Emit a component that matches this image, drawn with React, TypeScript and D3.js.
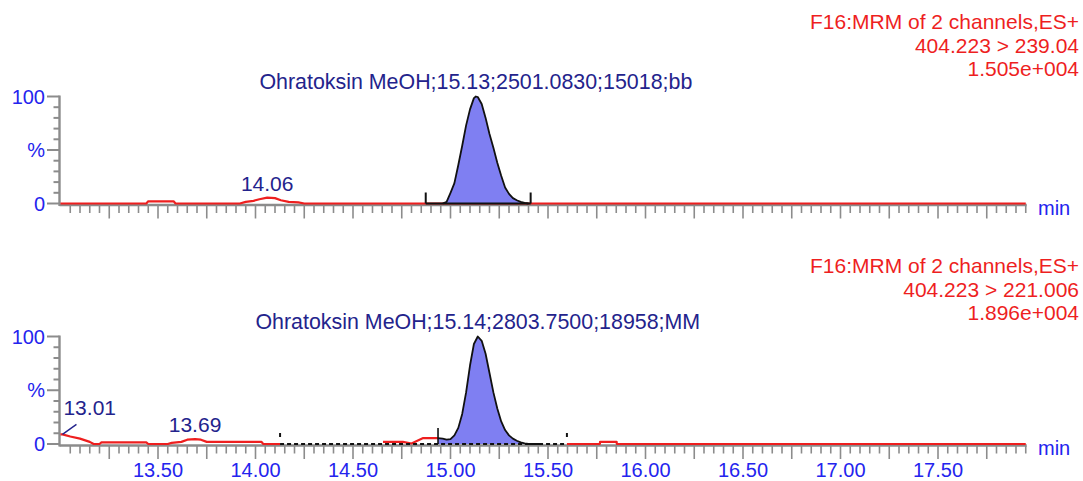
import React from "react";
import * as d3 from "d3";

type Pt = [number, number];

const FONT = "'Liberation Sans', Arial, Helvetica, sans-serif";
const BLUE = "#2424ee";
const NAVY = "#23238c";
const RED = "#ee1f1f";
const GREY = "#8c8c8c";
const FILL = "#7f7ff2";

// Retention-time axis (minutes)
const timeDomain: [number, number] = [13.0, 17.95];
const tickLabels = ["13.50", "14.00", "14.50", "15.00", "15.50", "16.00", "16.50", "17.00", "17.50"];
const yTickValues = [0, 10, 20, 30, 40, 50, 60, 70, 80, 90, 100];

// Channel 1: 404.223 > 239.04
const ch1Header = ["F16:MRM of 2 channels,ES+", "404.223 > 239.04", "1.505e+004"];
const ch1Title = "Ohratoksin MeOH;15.13;2501.0830;15018;bb";
const ch1Apex = 15.13;
const ch1Window: [number, number] = [14.873, 15.411];
const ch1Trace: Pt[] = [
  [13.0, 0], [13.44, 0], [13.45, 2], [13.58, 2], [13.59, 0], [13.92, 0], [13.95, 1.5],
  [13.99, 2.5], [14.02, 4], [14.06, 5.5], [14.1, 5], [14.13, 3], [14.17, 1.5], [14.22, 1],
  [14.25, 0], [14.873, 0], [15.411, 0], [17.95, 0],
];
const ch1PeakTime = [14.96, 14.98, 15.0, 15.02, 15.04, 15.06, 15.08, 15.1, 15.12, 15.13, 15.14, 15.16,
  15.18, 15.2, 15.22, 15.24, 15.26, 15.28, 15.3, 15.32, 15.34, 15.36, 15.38, 15.4];
const ch1PeakValue = [0, 1.5, 10, 19, 36, 54, 73, 88, 98.5, 100, 99.5, 93,
  80, 65, 52, 38, 26, 15, 9, 5, 3, 1.5, 0.5, 0];
const ch1LabelTimes = [14.06];
const ch1LabelTexts = ["14.06"];

// Channel 2: 404.223 > 221.006
const ch2Header = ["F16:MRM of 2 channels,ES+", "404.223 > 221.006", "1.896e+004"];
const ch2Title = "Ohratoksin MeOH;15.14;2803.7500;18958;MM";
const ch2Apex = 15.14;
const ch2Window: [number, number] = [14.126, 15.597];
const ch2Split = 14.936;
const ch2Trace: Pt[] = [
  [13.0, 9], [13.01, 9], [13.05, 7], [13.1, 5], [13.15, 2], [13.17, 0], [13.2, 0], [13.21, 1.5],
  [13.44, 1.5], [13.45, 0], [13.55, 0], [13.57, 1], [13.62, 2], [13.65, 4], [13.69, 4.5],
  [13.72, 4], [13.75, 2], [14.03, 2], [14.04, 0], [14.126, 0], [14.4, 0],
  [14.654, 2], [14.756, 2], [14.8, 0.5], [14.86, 5.5], [14.936, 5.5], [15.5, 0],
  [15.597, 0], [15.766, 0], [15.767, 2], [15.852, 2], [15.853, 0], [17.95, 0],
];
const ch2PeakTime = [14.936, 14.96, 14.98, 15.0, 15.02, 15.04, 15.06, 15.08, 15.1, 15.12, 15.14, 15.16,
  15.18, 15.2, 15.22, 15.24, 15.26, 15.28, 15.3, 15.32, 15.34, 15.36, 15.38, 15.4, 15.46];
const ch2PeakValue = [5.5, 5, 4, 4.5, 8, 15, 28, 48, 73, 93, 100, 96,
  84, 66, 48, 33, 21, 13, 8, 5, 3, 1.5, 0.5, 0, 0];
const ch2LabelTimes = [13.01, 13.69];
const ch2LabelTexts = ["13.01", "13.69"];

const x = d3.scaleLinear().domain(timeDomain).range([60.5, 1025.75]);

const minorTicks = d3.range(1, 100).map((i) => ({ t: timeDomain[0] + i * 0.05, long: i % 5 === 0 }))
  .filter((d) => d.t <= timeDomain[1] + 1e-6);

type PanelProps = {
  y0: number;
  y100: number;
  headerBase: number;
  header: string[];
  title: string;
  apex: number;
  trace: Pt[];
  win: [number, number];
  peakTime: number[];
  peakValue: number[];
  labelTimes: number[];
  labelTexts: string[];
  integrated: "bb" | "MM";
  split?: number;
  showTimeLabels: boolean;
};

function Panel(p: PanelProps) {
  const y = d3.scaleLinear().domain([0, 100]).range([p.y0, p.y100]);
  const valueAt = (t: number) => {
    let best = p.trace[0];
    for (const d of p.trace) if (Math.abs(d[0] - t) < Math.abs(best[0] - t)) best = d;
    return best[1];
  };

  const traceLine = d3.line<Pt>()
    .defined((d) => !(d[0] > p.win[0] && d[0] < p.win[1] && d[1] === 0))
    .x((d) => x(d[0]))
    .y((d) => y(d[1]));

  const peak: Pt[] = p.peakTime.map((t, i) => [t, p.peakValue[i]]);
  const peakArea = d3.area<Pt>().x((d) => x(d[0])).y0(y(0)).y1((d) => y(d[1]));
  const peakLine = d3.line<Pt>().x((d) => x(d[0])).y((d) => y(d[1]));

  return (
    <g>
      {/* header, right aligned */}
      {p.header.map((s, i) => (
        <text key={s} x={1079} y={p.headerBase + i * 23.5} textAnchor="end"
          fill={RED} fontSize={21} fontFamily={FONT}>{s}</text>
      ))}

      {/* y axis */}
      <line x1={59.5} x2={59.5} y1={p.y100 - 1} y2={y(0) + 2.5} stroke={GREY} strokeWidth={2.4} />
      {yTickValues.map((v) => {
        const major = v % 50 === 0;
        return (
          <line key={v} x1={major ? 47 : 53.5} x2={59.5} y1={y(v)} y2={y(v)} stroke={GREY} strokeWidth={2} />
        );
      })}
      <text x={45} y={y(100) + 7} textAnchor="end" fill={BLUE} fontSize={20} fontFamily={FONT}>100</text>
      <text x={45} y={y(50) + 7} textAnchor="end" fill={BLUE} fontSize={20} fontFamily={FONT}>%</text>
      <text x={45} y={y(0) + 7} textAnchor="end" fill={BLUE} fontSize={20} fontFamily={FONT}>0</text>

      {/* x axis */}
      <line x1={59.5} x2={x(timeDomain[1]) + 1} y1={y(0) + 1.5} y2={y(0) + 1.5} stroke={GREY} strokeWidth={2.4} />
      {minorTicks.map((d) => (
        <line key={d.t.toFixed(2)} x1={x(d.t)} x2={x(d.t)} y1={y(0) + 2} y2={y(0) + (d.long ? 15 : 9.5)}
          stroke={GREY} strokeWidth={1.6} />
      ))}
      {p.showTimeLabels && tickLabels.map((s) => (
        <text key={s} x={x(+s)} y={y(0) + 33} textAnchor="middle" fill={BLUE} fontSize={20} fontFamily={FONT}>{s}</text>
      ))}
      <text x={1038} y={y(0) + 11} fill={BLUE} fontSize={20} fontFamily={FONT}>min</text>

      {/* chromatogram trace */}
      <path d={traceLine(p.trace) ?? ""} fill="none" stroke={RED} strokeWidth={2.2} strokeLinejoin="round" />

      {/* integrated peak */}
      <path d={peakArea(peak) ?? ""} fill={FILL} />
      {p.integrated === "bb" ? (
        <g stroke="#111" strokeWidth={2}>
          <line x1={x(p.win[0])} x2={x(p.win[1])} y1={y(0)} y2={y(0)} />
          <line x1={x(p.win[0])} x2={x(p.win[0])} y1={y(0)} y2={y(0) - 11} />
          <line x1={x(p.win[1])} x2={x(p.win[1])} y1={y(0)} y2={y(0) - 11} />
        </g>
      ) : (
        <g stroke="#111" strokeWidth={2}>
          <line x1={x(p.win[0])} x2={x(p.win[1])} y1={y(0)} y2={y(0)} strokeDasharray="4 3" />
          <line x1={x(p.win[0])} x2={x(p.win[0])} y1={y(0) - 11} y2={y(0) - 7} />
          <line x1={x(p.win[1])} x2={x(p.win[1])} y1={y(0) - 11} y2={y(0) - 7} />
          {p.split !== undefined && (
            <line x1={x(p.split)} x2={x(p.split)} y1={y(0)} y2={y(0) - 16} strokeWidth={1.6} />
          )}
        </g>
      )}
      <path d={peakLine(peak) ?? ""} fill="none" stroke="#111" strokeWidth={1.8} strokeLinejoin="round" />

      {/* peak title */}
      <text x={x(p.apex)} y={y(100) - 8} textAnchor="middle" fill={NAVY} fontSize={21.4} fontFamily={FONT}>{p.title}</text>

      {/* minor peak labels */}
      {p.labelTimes.map((t, i) => {
        const v = valueAt(t);
        const atEdge = t - timeDomain[0] < 0.05;
        if (atEdge) {
          return (
            <g key={t}>
              <line x1={x(t)} y1={y(v)} x2={x(t) + 14} y2={y(v) - 10} stroke={NAVY} strokeWidth={1.4} />
              <text x={x(t) + 1} y={y(v) - 19} fill={NAVY} fontSize={21} fontFamily={FONT}>{p.labelTexts[i]}</text>
            </g>
          );
        }
        return (
          <text key={t} x={x(t)} y={y(v) - 7} textAnchor="middle" fill={NAVY} fontSize={21} fontFamily={FONT}>
            {p.labelTexts[i]}
          </text>
        );
      })}
    </g>
  );
}

export default function App() {
  return (
    <svg width={1083} height={481} viewBox="0 0 1083 481"
      style={{ position: "absolute", left: 0, top: 0, background: "#fff", display: "block" }}>
      <rect width={1083} height={481} fill="#fff" />
      <Panel y0={203.5} y100={96.5} headerBase={29} header={ch1Header} title={ch1Title} apex={ch1Apex}
        trace={ch1Trace} win={ch1Window} peakTime={ch1PeakTime} peakValue={ch1PeakValue}
        labelTimes={ch1LabelTimes} labelTexts={ch1LabelTexts} integrated="bb" showTimeLabels={false} />
      <Panel y0={444} y100={336.5} headerBase={273} header={ch2Header} title={ch2Title} apex={ch2Apex}
        trace={ch2Trace} win={ch2Window} peakTime={ch2PeakTime} peakValue={ch2PeakValue}
        labelTimes={ch2LabelTimes} labelTexts={ch2LabelTexts} integrated="MM" split={ch2Split}
        showTimeLabels={true} />
    </svg>
  );
}
